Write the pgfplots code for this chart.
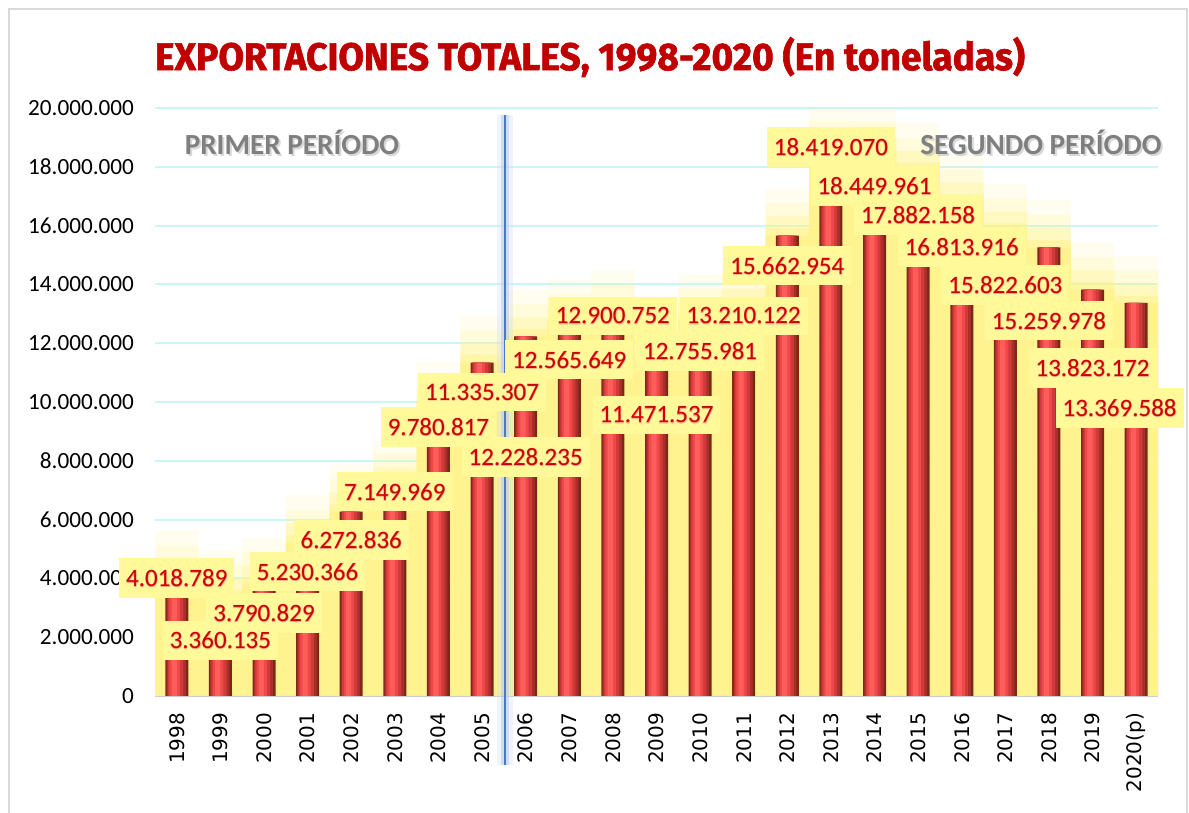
\documentclass[border=0pt]{standalone}
\usepackage{pgfplots}
\pgfplotsset{compat=1.18}
\usepackage{pgfplotstable}
\usepackage{graphicx}
\usepackage{fontspec}
\setmainfont{Carlito}
\newfontfamily\dejavu{DejaVu Sans}
\newfontfamily\titlefont[FakeBold=1.6]{Fira Sans}
\newfontfamily\halofont[FakeBold=3.5]{Carlito}

\definecolor{ttl}{HTML}{C00000}
\definecolor{lblred}{HTML}{CC0000}
\definecolor{halo}{HTML}{F7A48A}
\definecolor{glow}{HTML}{FFF38A}
\definecolor{lblbox}{HTML}{FFF99A}
\definecolor{gridc}{HTML}{C8F6F9}
\definecolor{bar1}{HTML}{7E2716}
\definecolor{bar2}{HTML}{A8302A}
\definecolor{bar3}{HTML}{D03A3A}
\definecolor{bar4}{HTML}{EE4848}
\definecolor{bar5}{HTML}{FF5C5C}
\definecolor{vline}{HTML}{4A78C8}
\definecolor{period}{HTML}{7F7F7F}

% x: position, v: exported tonnes, lab: data label, lx/ly: where the label sits
\pgfplotstableread{
x  v         lab         lx     ly
0  4018789   4.018.789   0      4010000
1  3360135   3.360.135   1      1900000
2  3790829   3.790.829   2      2820000
3  5230366   5.230.366   3      4220000
4  6272836   6.272.836   4      5310000
5  7149969   7.149.969   5      6940000
6  9780817   9.780.817   6      9150000
7  11335307  11.335.307  7      10340000
8  12228235  12.228.235  8      8130000
9  12565649  12.565.649  9      11430000
10 12900752  12.900.752  10     12930000
11 11471537  11.471.537  11     9560000
12 12755981  12.755.981  12     11730000
13 13210122  13.210.122  13     12930000
14 15662954  15.662.954  14     14630000
15 18419070  18.419.070  15     18670000
16 18449961  18.449.961  16     17350000
17 17882158  17.882.158  17     16360000
18 16813916  16.813.916  18     15270000
19 15822603  15.822.603  19     13980000
20 15259978  15.259.978  20     12760000
21 13823172  13.823.172  21     11160000
22 13369588  13.369.588  21.62  9800000
}\datatab

% same series, extended to the plot edges for the yellow glow behind the bars
\pgfplotstableread{
x     v
-0.5  4018789
0     4018789
1     3360135
2     3790829
3     5230366
4     6272836
5     7149969
6     9780817
7     11335307
8     12228235
9     12565649
10    12900752
11    11471537
12    12755981
13    13210122
14    15662954
15    18419070
16    18449961
17    17882158
18    16813916
19    15822603
20    15259978
21    13823172
22    13369588
22.5  13369588
}\glowtab

\begin{document}
\begin{tikzpicture}
\path[use as bounding box] (0,0) rectangle (594.5pt,406.5pt);
\fill[white] (0,0) rectangle (594.5pt,406.5pt);
\draw[black!15, line width=1pt] (4.5pt,-10pt) rectangle (593.5pt,402pt);

\begin{axis}[
  at={(77.5pt,58.5pt)}, anchor=south west,
  scale only axis, width=501.5pt, height=294pt,
  xmin=-0.5, xmax=22.5, ymin=0, ymax=20000000,
  axis x line*=bottom, axis y line*=left,
  x axis line style={draw=black!20, line width=1pt},
  y axis line style={draw=none},
  major tick length=0pt,
  scaled y ticks=false,
  ytick={0,2000000,4000000,6000000,8000000,10000000,12000000,14000000,16000000,18000000,20000000},
  yticklabels={0,2.000.000,4.000.000,6.000.000,8.000.000,10.000.000,12.000.000,14.000.000,16.000.000,18.000.000,20.000.000},
  yticklabel style={font=\fontsize{11.6}{13}\selectfont, text=black},
  yticklabel shift=7pt,
  xtick={0,1,...,22},
  xticklabels={1998,1999,2000,2001,2002,2003,2004,2005,2006,2007,2008,2009,2010,2011,2012,2013,2014,2015,2016,2017,2018,2019,2020(p)},
  xticklabel style={rotate=90, anchor=east, font=\dejavu\fontsize{10}{12}\selectfont, text=black},
  xticklabel shift=5pt,
  ymajorgrids, grid style={gridc, line width=1pt},
  clip=false,
]
% yellow glow
\addplot[const plot mark mid, draw=none, fill=glow, fill opacity=0.12] table[x=x, y expr=\thisrow{v}+1600000] {\glowtab} \closedcycle;
\addplot[const plot mark mid, draw=none, fill=glow, fill opacity=0.2] table[x=x, y expr=\thisrow{v}+1100000] {\glowtab} \closedcycle;
\addplot[const plot mark mid, draw=none, fill=glow, fill opacity=0.32] table[x=x, y expr=\thisrow{v}+650000] {\glowtab} \closedcycle;
\addplot[const plot mark mid, draw=none, fill=glow, fill opacity=0.5] table[x=x, y expr=\thisrow{v}+250000] {\glowtab} \closedcycle;
\addplot[const plot mark mid, draw=none, fill=glow, fill opacity=0.75] table[x=x, y=v] {\glowtab} \closedcycle;
% bars (cylinder look from layered fills)
\addplot[ybar, bar width=11.5pt, bar shift=0pt,    draw=none, fill=bar1] table[x=x, y=v] {\datatab};
\addplot[ybar, bar width=9.6pt,  bar shift=-0.3pt, draw=none, fill=bar2] table[x=x, y=v] {\datatab};
\addplot[ybar, bar width=7.6pt,  bar shift=-0.7pt, draw=none, fill=bar3] table[x=x, y=v] {\datatab};
\addplot[ybar, bar width=5.2pt,  bar shift=-1.1pt, draw=none, fill=bar4] table[x=x, y=v] {\datatab};
\addplot[ybar, bar width=2.6pt,  bar shift=-1.3pt, draw=none, fill=bar5] table[x=x, y=v] {\datatab};
% blue separator line
\draw[line width=8pt, vline!25, opacity=0.35] (axis cs:7.52,19760000) -- (axis cs:7.52,-2350000);
\draw[line width=4pt, vline!40, opacity=0.5] (axis cs:7.52,19760000) -- (axis cs:7.52,-2350000);
\draw[line width=0.9pt, vline] (axis cs:7.52,19760000) -- (axis cs:7.52,-2350000);
% data labels: box + halo, then text
\addplot[draw=none, mark=none, nodes near coords, point meta=explicit symbolic,
  every node near coord/.style={anchor=center, fill=lblbox, text=halo,
    font=\halofont\fontsize{12.5}{14}\selectfont, inner xsep=3.5pt, inner ysep=5.5pt}]
  table[x=lx, y=ly, meta=lab] {\datatab};
\addplot[draw=none, mark=none, nodes near coords, point meta=explicit symbolic,
  every node near coord/.style={anchor=center, text=lblred,
    font=\fontsize{12.5}{14}\selectfont, inner xsep=3.5pt, inner ysep=5.5pt}]
  table[x=lx, y=ly, meta=lab] {\datatab};
\end{axis}

% period labels
\node[text=black!30, opacity=0.5, font=\bfseries\fontsize{14.6}{16}\selectfont] at (147pt,334.5pt) {PRIMER PERÍODO};
\node[text=period, font=\bfseries\fontsize{14.6}{16}\selectfont] at (146pt,335.5pt) {PRIMER PERÍODO};
\node[text=black!30, opacity=0.5, font=\bfseries\fontsize{14.6}{16}\selectfont] at (521.5pt,334.5pt) {SEGUNDO PERÍODO};
\node[text=period, font=\bfseries\fontsize{14.6}{16}\selectfont] at (520.5pt,335.5pt) {SEGUNDO PERÍODO};

% title
\node[text=ttl, inner sep=0pt] at (295pt,378pt)
  {\resizebox*{435pt}{20pt}{\titlefont\bfseries EXPORTACIONES TOTALES, 1998-2020 (En toneladas)}};
\end{tikzpicture}
\end{document}
